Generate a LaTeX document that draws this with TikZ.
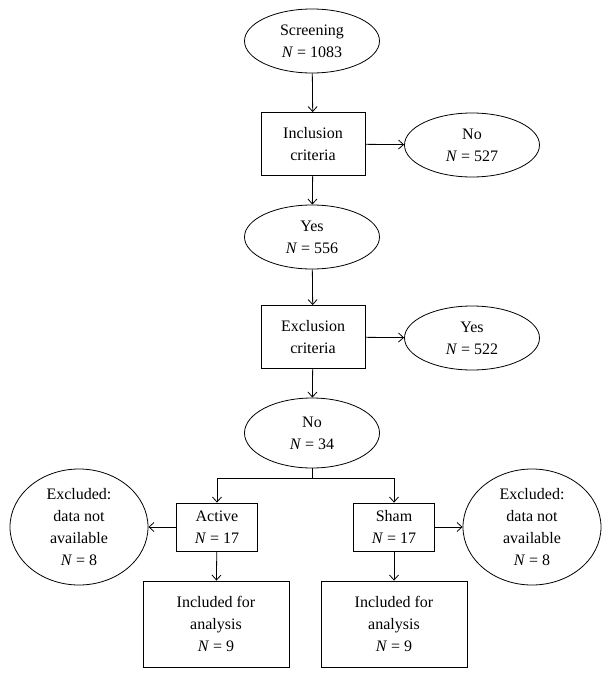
\documentclass[tikz,border=0pt]{standalone}
\usepackage{fontspec}
\setmainfont{Liberation Serif}
\usetikzlibrary{shapes.geometric,arrows.meta}

\begin{document}
\begin{tikzpicture}[x=1pt,y=-1pt,
    every node/.style={font=\fontsize{16}{22}\selectfont, align=center},
    oval/.style={draw, ellipse, inner sep=0pt, minimum width=135pt, minimum height=64pt},
    bigoval/.style={draw, ellipse, inner sep=0pt, minimum width=138pt, minimum height=116pt},
    box/.style={draw, rectangle, inner sep=0pt, minimum width=104pt, minimum height=63pt},
    smallbox/.style={draw, rectangle, inner sep=0pt, minimum width=81pt, minimum height=48pt},
    widebox/.style={draw, rectangle, inner sep=0pt, minimum width=146pt, minimum height=86pt},
    line width=0.8pt,
    >={Straight Barb[length=5pt,width=9pt]}]
    \useasboundingbox (0,0) rectangle (611,680);

    % Main column
    \node[oval] (screen) at (312,41) {Screening\\\textit{N} = 1083};
    \node[box] (incl) at (313,144) {Inclusion\\criteria};
    \node[oval] (inclno) at (472,145) {No\\\textit{N} = 527};
    \node[oval] (inclyes) at (312,237) {Yes\\\textit{N} = 556};
    \node[box] (excl) at (313,337) {Exclusion\\criteria};
    \node[oval] (exclyes) at (472,338) {Yes\\\textit{N} = 522};
    \node[oval, minimum height=70pt] (exclno) at (312,433) {No\\\textit{N} = 34};

    % Groups
    \node[smallbox] (active) at (217,527) {Active\\\textit{N} = 17};
    \node[smallbox] (sham) at (394,527) {Sham\\\textit{N} = 17};
    \node[bigoval] (actout) at (79,527) {Excluded:\\data not\\available\\\textit{N} = 8};
    \node[bigoval] (shamout) at (532,527) {Excluded:\\data not\\available\\\textit{N} = 8};
    \node[widebox] (actin) at (216,624) {Included for\\analysis\\\textit{N} = 9};
    \node[widebox] (shamin) at (394,624) {Included for\\analysis\\\textit{N} = 9};

    % Arrows
    \draw[->] (screen) -- (incl);
    \draw[->] (incl) -- (inclno);
    \draw[->] (incl) -- (inclyes);
    \draw[->] (inclyes) -- (excl);
    \draw[->] (excl) -- (exclyes);
    \draw[->] (excl) -- (exclno);

    % Split
    \draw (exclno.south) -- ++(0,10) coordinate (split);
    \draw[->] (split) -| (active.north);
    \draw[->] (split) -| (sham.north);
    \draw[->] (active) -- (actout);
    \draw[->] (sham) -- (shamout);
    \draw[->] (active) -- (actin);
    \draw[->] (sham) -- (shamin);
\end{tikzpicture}
\end{document}
